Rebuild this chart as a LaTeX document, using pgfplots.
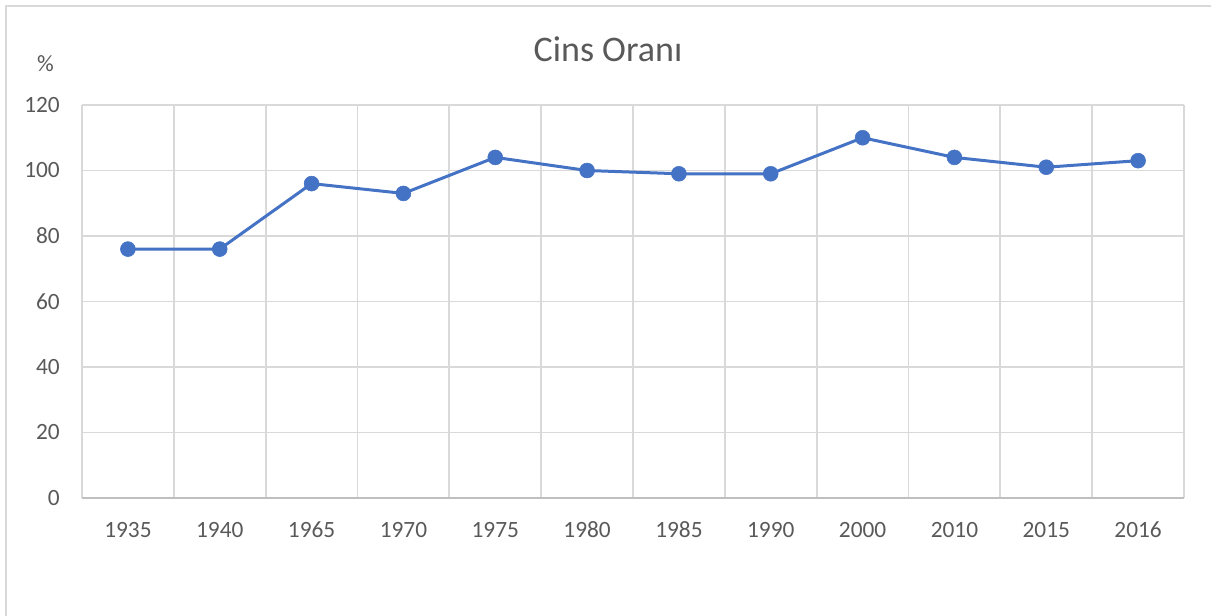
\documentclass[border=0pt]{standalone}
\usepackage{pgfplots}
\pgfplotsset{compat=1.18}
\usepackage{fontspec}
\setmainfont{Carlito}
\definecolor{gridc}{HTML}{D9D9D9}
\definecolor{axc}{HTML}{BFBFBF}
\definecolor{txt}{HTML}{595959}
\definecolor{ser}{HTML}{4472C4}
\begin{document}
\begin{tikzpicture}[x=0.75pt,y=0.75pt]
\useasboundingbox (0,0) rectangle (1211,615);
\draw[gridc, line width=1.3pt] (6,-10) -- (6,609) -- (1240,609);
\node[text=txt, font=\fontsize{27}{32}\selectfont, anchor=base] at (608,553) {Cins Oranı};
\node[text=txt, font=\fontsize{17.5}{21}\selectfont, anchor=base] at (45.5,543) {\%};
\begin{axis}[
  at={(61.5pt,87.75pt)}, anchor=south west,
  scale only axis, width=826.5pt, height=294.75pt,
  xmin=0, xmax=12, ymin=0, ymax=120,
  ytick={0,20,...,120},
  xtick={0.5,1.5,...,11.5},
  xticklabels={1935,1940,1965,1970,1975,1980,1985,1990,2000,2010,2015,2016},
  minor xtick={0,1,...,12},
  xminorgrids=true, ymajorgrids=true,
  major grid style={gridc, line width=1.3pt},
  minor grid style={gridc, line width=1.3pt},
  axis line style={draw=none},
  major tick length=0pt, minor tick length=0pt,
  /pgf/number format/assume math mode=true,
  yticklabel style={font=\fontsize{17.5}{21}\selectfont, text=txt, anchor=east, inner sep=0pt, xshift=-16.5pt},
  xticklabel style={font=\fontsize{17.5}{21}\selectfont, text=txt, anchor=base, inner sep=0pt, yshift=-29.25pt},
  clip=false,
]
\draw[axc, line width=1.3pt] (axis cs:0,0) -- (axis cs:12,0);
\addplot[ser, line width=2.25pt, mark=*, mark size=5.6pt, mark options={fill=ser, draw=ser, line width=0.4pt}]
  coordinates {(0.5,76) (1.5,76) (2.5,96) (3.5,93) (4.5,104) (5.5,100) (6.5,99) (7.5,99) (8.5,110) (9.5,104) (10.5,101) (11.5,103)};
\end{axis}
\end{tikzpicture}
\end{document}
